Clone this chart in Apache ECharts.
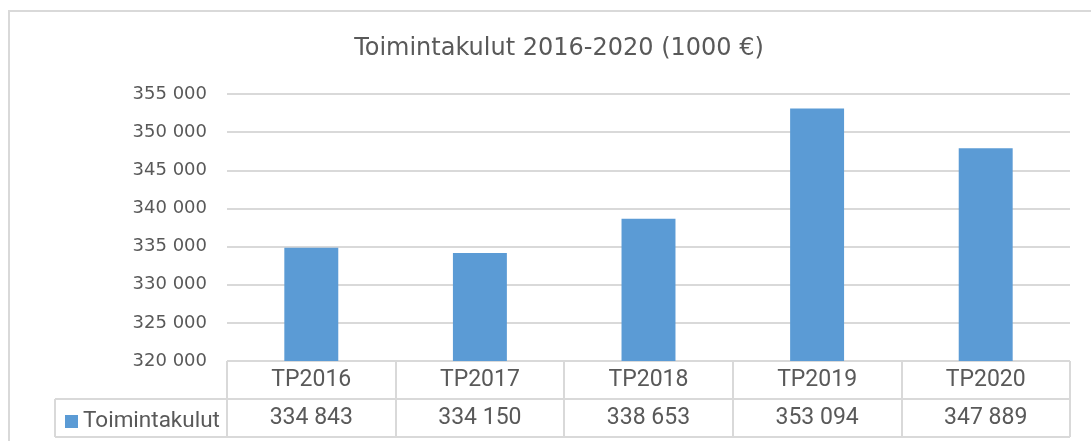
<!DOCTYPE html>
<html>
<head>
<meta charset="utf-8">
<script src="https://cdn.jsdelivr.net/npm/echarts@6/dist/echarts.min.js"></script>
<style>
  html, body { margin: 0; padding: 0; background: #fff; }
  #chart { width: 1091px; height: 441px; }
</style>
</head>
<body>
<div id="chart"></div>
<script>
// data
const categories = ['TP2016', 'TP2017', 'TP2018', 'TP2019', 'TP2020'];
const costs = [334843, 334150, 338653, 353094, 347889];
const seriesName = 'Toimintakulut';

const textColor = '#595959';
const lineColor = '#d9d9d9';

function fmt(v) {
    return String(v).replace(/\B(?=(\d{3})+(?!\d))/g, ' ');
}

const chart = echarts.init(document.getElementById('chart'));

let option = {
    animation: false,
    title: {
        text: 'Toimintakulut 2016-2020 (1000 €)',
        left: 554,
        textAlign: 'center',
        top: 32,
        textStyle: {
            fontFamily: 'DejaVu Sans',
            fontSize: 24,
            fontWeight: 'normal',
            color: textColor
        }
    },
    legend: {
        data: [seriesName],
        left: 60,
        top: 405,
        icon: 'rect',
        itemWidth: 13,
        itemHeight: 13,
        itemGap: 6,
        textStyle: { fontFamily: 'Roboto', fontSize: 22.5, color: textColor }
    },
    grid: { left: 227, right: 21, top: 94, bottom: 80 },
    xAxis: [
        {
            type: 'category',
            data: categories,
            axisLine: { show: true, lineStyle: { color: lineColor, width: 1 } },
            axisTick: { show: true, interval: 0, length: 76, lineStyle: { color: lineColor, width: 2 } },
            axisLabel: {
                margin: 8,
                fontFamily: 'Roboto',
                fontSize: 23,
                color: textColor
            }
        },
        {
            type: 'category',
            position: 'bottom',
            offset: 38,
            data: costs.map(fmt),
            axisLine: { show: false },
            axisTick: { show: false },
            axisLabel: {
                margin: 8,
                fontFamily: 'Roboto',
                fontSize: 23,
                color: textColor
            }
        }
    ],
    yAxis: {
        type: 'value',
        min: 320000,
        max: 355000,
        interval: 5000,
        axisLine: { show: false },
        axisTick: { show: false },
        splitLine: { lineStyle: { color: lineColor, width: 2 } },
        axisLabel: {
            margin: 20,
            fontFamily: 'DejaVu Sans',
            fontSize: 18,
            color: textColor,
            formatter: fmt
        }
    },
    series: [
        {
            name: seriesName,
            type: 'bar',
            data: costs,
            barWidth: '32%',
            itemStyle: { color: '#5b9bd5' }
        }
    ]
};

chart.setOption(option);

// table frame below the plot
const x0 = chart.convertToPixel({ gridIndex: 0 }, [0, 320000]);
const gridLeft = 227;
const gridRight = 1091 - 21;
const yTop = x0[1];
const rowH = 38;
const lineStyle = { stroke: lineColor, lineWidth: 2 };

chart.setOption({
    graphic: [
        { type: 'rect', shape: { x: 9, y: 11, width: 1100, height: 440 },
          style: { fill: 'none', stroke: lineColor, lineWidth: 2 }, silent: true, z: -1 },
        { type: 'line', shape: { x1: gridLeft, y1: yTop + rowH, x2: gridRight, y2: yTop + rowH }, style: lineStyle },
        { type: 'line', shape: { x1: 55, y1: yTop + rowH, x2: gridLeft, y2: yTop + rowH }, style: lineStyle },
        { type: 'line', shape: { x1: 55, y1: yTop + 2 * rowH, x2: gridRight, y2: yTop + 2 * rowH }, style: lineStyle },
        { type: 'line', shape: { x1: 55, y1: yTop + rowH, x2: 55, y2: yTop + 2 * rowH }, style: lineStyle }
    ]
});
</script>
</body>
</html>
